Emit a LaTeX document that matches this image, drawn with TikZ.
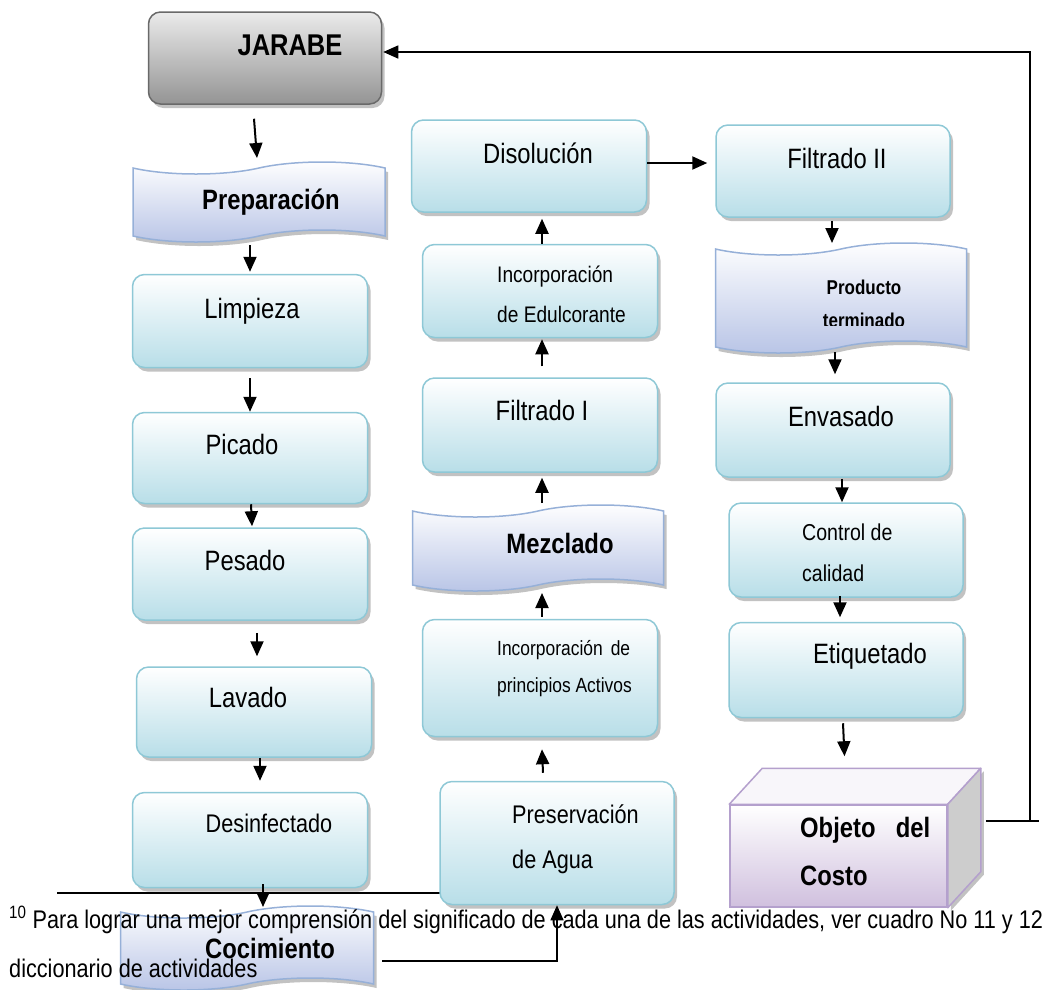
\documentclass[tikz,border=0pt]{standalone}
\usepackage{fontspec}
\setmainfont{Liberation Sans}[FakeStretch=0.85]
\usetikzlibrary{shapes.symbols,shadows,arrows.meta,calc}

\definecolor{boxline}{RGB}{142,200,214}
\definecolor{boxfill}{RGB}{184,222,232}
\definecolor{tapeline}{RGB}{150,176,216}
\definecolor{tapefill}{RGB}{184,196,230}
\definecolor{jarline}{RGB}{105,105,105}
\definecolor{objline}{RGB}{180,160,205}
\definecolor{objfill}{RGB}{208,192,222}
\definecolor{objtop}{RGB}{248,246,250}
\definecolor{objside}{RGB}{205,205,205}

\newcommand{\fsz}[1]{\fontsize{#1}{#1}\selectfont}

\tikzset{
  act/.style={draw=boxline, line width=1.5pt, rounded corners=12pt, inner sep=0pt,
    top color=white, bottom color=boxfill, minimum width=235pt, minimum height=93pt,
    drop shadow={shadow xshift=3pt, shadow yshift=-4pt, fill=black!40, opacity=0.6}},
  band/.style={tape, draw=tapeline, line width=1.5pt, inner sep=0pt, tape bend height=12pt,
    top color=white, bottom color=tapefill, minimum width=252pt, minimum height=80pt,
    drop shadow={shadow xshift=3pt, shadow yshift=-4pt, fill=black!40, opacity=0.6}},
  txt/.style={inner sep=0pt, anchor=base},
  txtl/.style={inner sep=0pt, anchor=base west},
  arr/.style={line width=2pt, -{Triangle[width=13pt,length=15pt]}},
  conn/.style={line width=1.5pt}
}

\begin{document}
\begin{tikzpicture}[x=1pt,y=-1pt]
  \useasboundingbox (0,0) rectangle (1057,989);

  % footnote rule, behind the boxes
  \draw[conn] (57,893) coordinate (rulel) -- (450,893) coordinate (ruler);

  % left column
  \node[act, draw=jarline, top color=black!8, bottom color=black!42, minimum width=233pt, minimum height=92pt] (jarabe) at (265,58) {};
  \node[band] (prep) at (259,202) {};
  \node[act] (limp) at (250,321) {};
  \node[act, minimum height=91pt] (pica) at (250,458) {};
  \node[act, minimum height=92pt] (pesa) at (250,574) {};
  \node[act, minimum height=90pt] (lava) at (254,712) {};
  \node[act, minimum height=95pt] (desi) at (250,840) {};
  \node[band, minimum width=253pt, minimum height=84pt] (coc) at (247,948) {};

  % middle column
  \node[act, minimum height=92pt] (disol) at (529,166) {};
  \node[act] (edul) at (540,291) {};
  \node[act, minimum height=94pt] (filt1) at (540,425) {};
  \node[band, minimum width=251pt, minimum height=86pt] (mezc) at (538,548) {};
  \node[act, minimum height=117pt] (incp) at (540,678) {};
  \node[act, minimum width=234pt, minimum height=123pt] (pres) at (557,843) {};

  % right column
  \node[act, minimum width=234pt, minimum height=92pt] (filt2) at (833,171) {};
  \node[band, minimum width=251pt, minimum height=110pt] (prod) at (841,298) {};
  \node[act, minimum width=234pt, minimum height=94pt] (envas) at (833,430) {};
  \node[act, minimum width=234pt, minimum height=94pt] (ctrl) at (846,550) {};
  \node[act, minimum width=234pt, minimum height=95pt] (etiq) at (846,670) {};

  % cost object (cuboid)
  \node[draw=objline, line width=1.5pt, inner sep=0pt, top color=white, bottom color=objfill,
    minimum width=217pt, minimum height=102pt] (obj) at (838.5,856) {};
  \filldraw[fill=objtop, draw=objline, line width=1.5pt, line join=round]
    (obj.north west) -- ($(obj.north west)+(33,-36)$) -- ($(obj.north east)+(33,-36)$) -- (obj.north east) -- cycle;
  \filldraw[fill=objside, draw=objline, line width=1.5pt, line join=round,
    drop shadow={shadow xshift=3pt, shadow yshift=-3pt, fill=black!40, opacity=0.6}]
    (obj.north east) -- ($(obj.north east)+(33,-36)$) -- ($(obj.south east)+(33,-36)$) -- (obj.south east) -- cycle;

  % texts
  \node[txt] (jarabe-t) at (290,55) {\fsz{30}\bfseries JARABE};
  \node[txt] (prep-t) at (271,209) {\fsz{28}\bfseries Preparación};
  \node[txt] (limp-t) at (252,318) {\fsz{28}Limpieza};
  \node[txt] (pica-t) at (242,454) {\fsz{28}Picado};
  \node[txt] (pesa-t) at (245,570) {\fsz{28}Pesado};
  \node[txt] (lava-t) at (248,707) {\fsz{28}Lavado};
  \node[txt] (desi-t) at (269,832) {\fsz{25.5}Desinfectado};
  \node[txt] (disol-t) at (538,163) {\fsz{28}Disolución};
  \node[txtl] (edul-t1) at (497,282) {\fsz{22.5}Incorporación};
  \node[txtl] (edul-t2) at (497,322) {\fsz{22.5}de Edulcorante};
  \node[txt] (filt1-t) at (542,420) {\fsz{28}Filtrado I};
  \node[txt] (mezc-t) at (560,553) {\fsz{28}\bfseries Mezclado};
  \node[txtl] (incp-t1) at (497,655) {\fsz{20.5}\makebox[133pt][s]{Incorporación de}};
  \node[txtl] (incp-t2) at (497,692) {\fsz{20.5}principios Activos};
  \node[txtl] (pres-t1) at (512,823) {\fsz{25.5}Preservación};
  \node[txtl] (pres-t2) at (512,868) {\fsz{25.5}de Agua};
  \node[txt] (filt2-t) at (837,168) {\fsz{28}Filtrado II};
  \node[txt] (prod-t1) at (864,294) {\fsz{20}\bfseries Producto};
  \begin{scope}
    \clip (700,240) rectangle (990,325);
    \node[txt] (prod-t2) at (864,327) {\fsz{20}\bfseries terminado};
  \end{scope}
  \node[txt] (envas-t) at (841,426) {\fsz{28}Envasado};
  \node[txtl] (ctrl-t1) at (802,540) {\fsz{23}Control de};
  \node[txtl] (ctrl-t2) at (802,581) {\fsz{23}calidad};
  \node[txt] (etiq-t) at (870,663) {\fsz{28}Etiquetado};
  \node[txtl] (obj-t1) at (800,837) {\fsz{28}\bfseries\makebox[130pt][s]{Objeto del}};
  \node[txtl] (obj-t2) at (800,885) {\fsz{28}\bfseries Costo};

  % connectors
  \draw[arr] ($(jarabe.south)+(-11,14)$) -- ($(prep.center)+(-2,-44)$);
  \draw[arr] ($(prep.center)+(-9,43)$) -- ($(limp.north)+(0,-2)$);
  \draw[arr] ($(limp.south)+(0,10)$) -- (pica.north);
  \draw[arr] ($(pica.south)+(1,0)$) -- ($(pesa.north)+(2,-1)$);
  \draw[arr] ($(pesa.south)+(7,12)$) -- ($(lava.north)+(3,-10)$);
  \draw[arr] ($(lava.south)+(6,0)$) -- ($(desi.north)+(10,-11)$);
  \draw[arr] ($(desi.south)+(13,-4)$) -- ($(coc.center)+(16,-41)$);
  \draw[arr, line width=1.5pt] ($(coc.center)+(135,13)$) -| (pres.south);

  \draw[arr] ($(pres.north)+(-14,-8)$) -- ($(incp.south)+(2,12)$);
  \draw[arr] ($(incp.north)+(2,-2)$) -- ($(mezc.center)+(4,45)$);
  \draw[arr] ($(mezc.center)+(4,-45)$) -- ($(filt1.south)+(2,5)$);
  \draw[arr] ($(filt1.north)+(2,-11)$) -- ($(edul.south)+(2,1)$);
  \draw[arr] ($(edul.north)+(2,0)$) -- ($(disol.south)+(13,6)$);
  \draw[arr] ($(disol.east)+(0,-3)$) -- ($(filt2.west)+(-8,-8)$);

  \draw[arr] ($(filt2.south)+(-1,3)$) -- ($(prod.center)+(-9,-55)$);
  \draw[arr] ($(prod.center)+(-6,54)$) -- ($(envas.north)+(2,-8)$);
  \draw[arr] ($(envas.south)+(9,1)$) -- ($(ctrl.north)+(-4,0)$);
  \draw[arr] ($(ctrl.south)+(-6,-2)$) -- ($(etiq.north)+(-6,-4.5)$);
  \draw[arr] ($(etiq.south)+(-3,5)$) -- ($(obj.north)+(6,-48)$);

  \coordinate (objlink) at ($(obj.east)+(38,-35)$);
  \draw[conn] (objlink) -- ++(53,0);
  \draw[arr, line width=1.5pt] ($(objlink)+(44,0)$) |- ($(jarabe.east)+(1,-6)$);

  % footnote text
  \node[txtl] (note1) at (9,928) {\fsz{25.5}\textsuperscript{10} Para lograr una mejor comprensión del significado de cada una de las actividades, ver cuadro No 11 y 12};
  \node[txtl] (note2) at (9,977) {\fsz{25.5}diccionario de actividades};
  \node[txt] (coc-t) at (270,958) {\fsz{28}\bfseries Cocimiento};
\end{tikzpicture}
\end{document}
